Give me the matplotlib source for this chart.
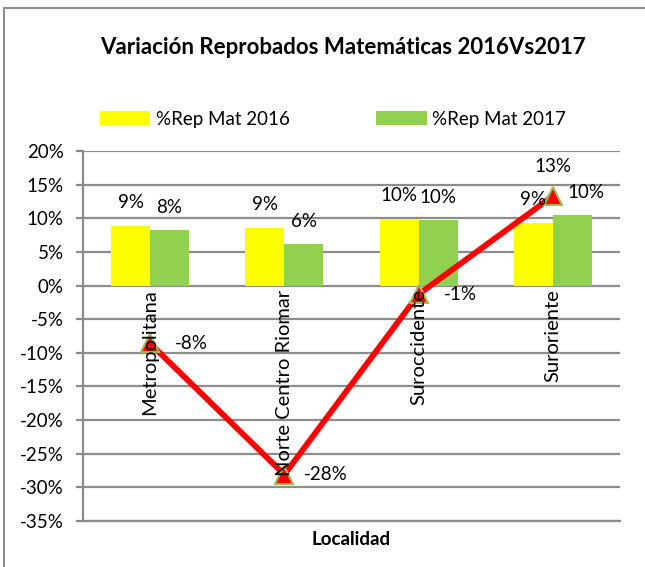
import numpy as np
import matplotlib.pyplot as plt
from matplotlib.patches import Rectangle

plt.rcParams['font.family'] = ['Lato', 'DejaVu Sans']

# Data
localidades = ['Metropolitana', 'Norte Centro Riomar', 'Suroccidente', 'Suroriente']
rep_2016 = [8.9, 8.6, 9.9, 9.3]
rep_2017 = [8.3, 6.2, 9.7, 10.5]
variacion = [-8.6, -28.1, -1.3, 13.3]
lbl_2016 = ['9%', '9%', '10%', '9%']
lbl_2017 = ['8%', '6%', '10%', '10%']
lbl_var = ['-8%', '-28%', '-1%', '13%']
yticks = list(range(20, -40, -5))

c16 = '#FFFF00'
c17 = '#92D050'
grid_c = '#8C8C8C'

fig = plt.figure(figsize=(6.45, 5.67), dpi=100)
ax = fig.add_axes([83 / 645, 1 - 521 / 567, 537 / 645, 370 / 567])

# chart border
fig.patches.append(Rectangle((4 / 645, -0.05), 1.1, 1 - 8 / 567 + 0.05,
                             transform=fig.transFigure, fill=False,
                             edgecolor='#8C8C8C', linewidth=1.5))

x = np.arange(len(localidades))
w = 0.29
ax.bar(x - w / 2, rep_2016, w, color=c16, label='%Rep Mat 2016', zorder=2)
ax.bar(x + w / 2, rep_2017, w, color=c17, label='%Rep Mat 2017', zorder=2)

ax.plot(x, variacion, color='#FF0000', linewidth=4.2, marker='^',
        markersize=13, markerfacecolor='#FF0000', markeredgecolor='#9BBB59',
        markeredgewidth=1.5, zorder=4)

fs = 13.5
for i in range(len(x)):
    ax.annotate(lbl_2016[i], (x[i] - w / 2, rep_2016[i]), xytext=(0, 17),
                textcoords='offset points', ha='center', va='center', fontsize=fs, zorder=5)
    dx = 10 if i == 3 else 0
    ax.annotate(lbl_2017[i], (x[i] + w / 2, rep_2017[i]), xytext=(dx, 10),
                textcoords='offset points', ha='center', va='bottom', fontsize=fs, zorder=5)
    if i == 3:
        off = (0, 21)
    else:
        off = (30, 0)
    ax.annotate(lbl_var[i], (x[i], variacion[i]), xytext=off,
                textcoords='offset points', ha='center', va='center', fontsize=fs, zorder=5)
    ax.text(x[i], -0.6, localidades[i], rotation=90, ha='center', va='top',
            fontsize=14.5, zorder=6)

ax.set_xlim(-0.5, 3.5)
ax.set_ylim(-35, 20)
ax.set_yticks(yticks)
ax.set_yticklabels([f'{v}%' for v in yticks], fontsize=fs)
ax.set_xticks([])
ax.yaxis.grid(True, color=grid_c, linewidth=1.6, zorder=0)
ax.set_axisbelow(True)
for s in ['top', 'right']:
    ax.spines[s].set_visible(False)
ax.spines['left'].set_color(grid_c)
ax.spines['left'].set_linewidth(1.6)
ax.spines['bottom'].set_color(grid_c)
ax.spines['bottom'].set_linewidth(1.6)
ax.tick_params(axis='y', length=5, width=1.6, color=grid_c, pad=9)
ax.set_xlabel('Localidad', fontsize=fs, fontweight='bold', labelpad=7)

fig.text(343 / 645, 1 - 47 / 567, 'Variación Reprobados Matemáticas 2016Vs2017',
         ha='center', va='center', fontsize=16, fontweight='bold')
fig.legend(loc='center', bbox_to_anchor=(333 / 645, 1 - 119 / 567), ncol=2,
           frameon=False, fontsize=fs, handlelength=2.7, handleheight=0.8,
           columnspacing=4.6, handletextpad=0.3)

fig.savefig('out.png', dpi=100)
